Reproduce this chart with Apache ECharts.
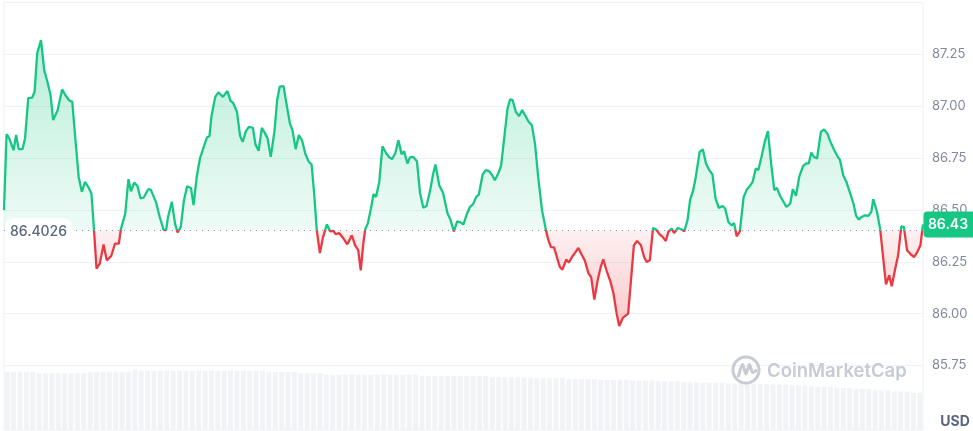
<!DOCTYPE html>
<html>
<head>
<meta charset="utf-8">
<script src="https://cdn.jsdelivr.net/npm/echarts/dist/echarts.min.js"></script>
<style>
html,body{margin:0;padding:0;background:#ffffff;}
#c{width:973px;height:431px;}
</style>
</head>
<body>
<div id="c"></div>
<script>
// time of each price sample, minutes since start of the 24h window
const times = [
0,4,8,15,19,23,29,33,38,44,
48,52,58,63,68,73,77,84,91,96,
102,107,112,117,122,127,132,137,141,145,
150,156,161,168,174,180,183,190,195,199,
204,209,214,219,226,230,238,244,250,254,
257,263,268,272,277,282,287,293,297,302,
307,313,318,322,325,331,336,343,350,355,
359,365,370,374,379,384,390,394,399,404,
409,413,418,424,428,432,438,443,448,452,
457,462,467,472,477,482,486,490,495,500,
506,511,516,520,525,532,538,541,545,550,
555,559,563,566,570,575,579,583,588,593,
599,604,608,613,618,623,627,632,636,641,
647,652,657,662,668,672,676,682,688,695,
699,705,710,716,720,725,730,735,740,744,
750,755,760,765,769,775,779,784,789,793,
797,802,807,812,816,822,827,832,837,843,
849,853,857,862,867,871,875,881,885,890,
895,900,905,910,916,920,925,930,935,939,
944,950,955,960,964,970,978,982,987,992,
998,1003,1007,1012,1017,1022,1027,1032,1037,1041,
1046,1050,1056,1061,1066,1071,1075,1080,1084,1090,
1095,1100,1105,1110,1115,1120,1126,1130,1135,1140,
1144,1148,1153,1159,1164,1169,1173,1178,1182,1187,
1192,1197,1202,1207,1211,1216,1221,1226,1232,1236,
1241,1246,1252,1257,1261,1265,1269,1274,1280,1285,
1290,1295,1301,1306,1310,1315,1320,1326,1331,1335,
1339,1344,1349,1354,1359,1362,1368,1373,1378,1382,
1387,1391,1396,1401,1406,1410,1415,1421,1426,1431,
1436,1440
];

// price in USD
const prices = [
86.499,86.865,86.846,86.788,86.861,86.793,86.793,86.846,87.039,87.041,
87.070,87.255,87.319,87.174,87.118,87.054,86.933,86.981,87.081,87.054,
87.029,87.021,86.836,86.659,86.587,86.635,86.611,86.579,86.405,86.217,
86.241,86.333,86.257,86.278,86.338,86.338,86.405,86.483,86.648,86.590,
86.632,86.616,86.555,86.560,86.600,86.598,86.539,86.466,86.405,86.402,
86.466,86.539,86.434,86.391,86.418,86.547,86.614,86.606,86.523,86.659,
86.748,86.804,86.849,86.856,86.949,87.045,87.067,87.045,87.073,87.026,
87.016,86.973,86.856,86.828,86.880,86.901,86.896,86.816,86.785,86.896,
86.869,86.845,86.756,86.885,87.029,87.094,87.097,87.005,86.917,86.885,
86.793,86.861,86.836,86.772,86.735,86.719,86.579,86.405,86.292,86.370,
86.430,86.397,86.399,86.383,86.389,86.362,86.334,86.338,86.378,86.330,
86.306,86.209,86.338,86.407,86.434,86.507,86.576,86.563,86.635,86.807,
86.772,86.753,86.745,86.772,86.836,86.769,86.783,86.724,86.753,86.756,
86.735,86.579,86.510,86.519,86.598,86.667,86.719,86.619,86.582,86.483,
86.458,86.397,86.445,86.439,86.430,86.478,86.514,86.528,86.563,86.574,
86.671,86.692,86.687,86.667,86.643,86.679,86.716,86.852,86.989,87.033,
87.029,86.973,86.952,86.981,86.960,86.925,86.909,86.820,86.659,86.499,
86.405,86.354,86.321,86.319,86.265,86.225,86.212,86.261,86.246,86.273,
86.294,86.317,86.285,86.257,86.193,86.177,86.068,86.157,86.225,86.262,
86.209,86.157,86.097,86.000,85.940,85.981,86.000,86.145,86.330,86.350,
86.330,86.273,86.249,86.257,86.413,86.405,86.383,86.370,86.350,86.394,
86.410,86.389,86.413,86.407,86.397,86.450,86.547,86.595,86.659,86.780,
86.792,86.724,86.692,86.672,86.555,86.510,86.519,86.507,86.442,86.426,
86.437,86.373,86.397,86.563,86.598,86.616,86.635,86.700,86.692,86.756,
86.828,86.880,86.724,86.595,86.606,86.568,86.542,86.514,86.531,86.600,
86.568,86.659,86.711,86.724,86.724,86.777,86.756,86.748,86.876,86.888,
86.869,86.828,86.788,86.759,86.740,86.667,86.635,86.579,86.531,86.474,
86.454,86.466,86.474,86.471,86.490,86.552,86.490,86.405,86.257,86.141,
86.185,86.132,86.209,86.281,86.421,86.418,86.306,86.285,86.273,86.297,
86.330,86.430
];

// volume bars (relative units)
const volumes = [
5.83,5.83,5.83,5.83,5.83,
5.67,5.67,5.67,5.67,5.67,5.67,5.67,5.67,
5.83,5.83,5.83,5.83,5.83,5.83,5.83,
6.07,
5.93,5.93,5.93,5.93,5.93,5.93,5.93,5.93,5.93,5.93,5.93,5.93,5.93,5.93,5.93,5.93,5.93,5.93,5.93,5.93,
5.80,5.80,5.80,5.80,5.80,
5.67,5.67,5.67,5.67,
5.53,5.53,5.53,5.53,5.53,5.53,5.53,5.53,5.53,5.53,5.53,5.53,5.53,5.53,5.53,
5.40,5.40,5.40,5.40,5.40,5.40,5.40,5.40,5.40,5.40,5.40,
5.27,5.27,
5.25,5.25,5.25,5.25,5.25,5.18,5.18,5.18,5.18,5.18,5.10,5.10,5.10,5.10,5.10,
5.02,5.02,5.02,5.02,5.02,4.95,4.95,4.95,4.95,4.87,4.87,4.87,4.87,4.78,4.78,4.78,
4.72,4.72,4.72,4.72,4.66,4.66,4.66,4.66,4.60,4.60,4.60,
4.55,4.55,4.55,4.45,4.45,4.45,4.35,4.35,4.35,4.35,
4.20,4.20,4.20,4.10,4.10,4.10,
3.98,3.98,3.98,3.85,3.85,3.85,3.72,3.72
];

const baseline = 86.4026;
const lastPrice = 86.43;
const baselineLabel = '86.4026';
const lastLabel = '86.43';
const yMin = 85.75, yMax = 87.5, yStep = 0.25;
const volAxisMax = 42.75;

const GREEN = '#16c784', RED = '#ea3943';
const maxP = Math.max.apply(null, prices), minP = Math.min.apply(null, prices);
const stop = (maxP - baseline) / (maxP - minP);

const chart = echarts.init(document.getElementById('c'), null, {renderer: 'canvas'});

const option = {
  animation: false,
  backgroundColor: '#ffffff',
  grid: [
    {left: 4, right: 50, top: 2.5, bottom: 65.5, outerBoundsMode: 'none'},
    {left: 4, right: 50, top: 2.5, bottom: 1, show: true, borderColor: '#eef0f3', borderWidth: 1, backgroundColor: 'transparent', outerBoundsMode: 'none'}
  ],
  xAxis: [
    {type: 'value', gridIndex: 0, min: 0, max: 1440, show: false},
    {type: 'category', gridIndex: 1, data: volumes.map((v, i) => i), show: false, boundaryGap: true}
  ],
  yAxis: [
    {
      type: 'value', gridIndex: 0, position: 'right', min: yMin, max: yMax, interval: yStep,
      axisLine: {show: false}, axisTick: {show: false},
      splitLine: {show: true, lineStyle: {color: '#eff2f5', width: 1}},
      axisLabel: {
        show: true, margin: 9, color: '#808a9d', fontSize: 13, fontFamily: 'Inter',
        formatter: v => (v >= yMax - 1e-9 ? '' : v.toFixed(2))
      }
    },
    {type: 'value', gridIndex: 1, min: 0, max: volAxisMax, show: false, splitLine: {show: false}}
  ],
  visualMap: {
    type: 'piecewise', show: false, seriesIndex: 1, dimension: 1,
    pieces: [
      {gt: 0, lte: baseline, color: RED},
      {gt: baseline, lte: 1000, color: GREEN}
    ],
    outOfRange: {color: GREEN}
  },
  series: [
    {
      type: 'bar', xAxisIndex: 1, yAxisIndex: 1, data: volumes, z: 1,
      barCategoryGap: '22%', itemStyle: {color: '#f1f3f6'}, silent: true
    },
    {
      type: 'line', xAxisIndex: 0, yAxisIndex: 0, z: 3,
      data: times.map((t, i) => [t, prices[i]]),
      showSymbol: false, symbol: 'none', smooth: false,
      lineStyle: {width: 2.3},
      areaStyle: {
        origin: baseline, opacity: 1,
        color: new echarts.graphic.LinearGradient(0, 0, 0, 1, [
          {offset: 0, color: 'rgba(22,199,132,0.30)'},
          {offset: stop, color: 'rgba(22,199,132,0.07)'},
          {offset: stop, color: 'rgba(234,57,67,0.07)'},
          {offset: 1, color: 'rgba(234,57,67,0.28)'}
        ])
      },
      markLine: {
        silent: true, symbol: 'none', label: {show: false},
        lineStyle: {color: '#8a93a6', type: [1, 5], width: 1},
        data: [{yAxis: baseline}]
      }
    }
  ]
};
chart.setOption(option);

const baseY = chart.convertToPixel({yAxisIndex: 0}, baseline);
const lastY = chart.convertToPixel({yAxisIndex: 0}, lastPrice);
const rightX = chart.convertToPixel({xAxisIndex: 0}, 1440);
const wmColor = '#c6cbd4';

chart.setOption({
  graphic: [
    {
      type: 'rect', z: 100,
      shape: {x: 5, y: baseY - 12, width: 67, height: 28, r: 8},
      style: {fill: 'rgba(255,255,255,0.95)'}
    },
    {
      type: 'text', z: 101, x: 38.5, y: baseY + 2,
      style: {text: baselineLabel, fill: '#58667e', font: '500 14px Inter', align: 'center', verticalAlign: 'middle'}
    },
    {
      type: 'rect', z: 100,
      shape: {x: rightX + 0.5, y: lastY - 13, width: 973 - rightX, height: 26, r: [4, 0, 0, 4]},
      style: {fill: GREEN}
    },
    {
      type: 'text', z: 101, x: rightX + 25, y: lastY,
      style: {text: lastLabel, fill: '#ffffff', font: '600 14px Inter', align: 'center', verticalAlign: 'middle'}
    },
    {
      type: 'text', z: 101, x: 955, y: 422,
      style: {text: 'USD', fill: '#58667e', font: '700 14px Inter', align: 'center', verticalAlign: 'middle'}
    },
    {
      type: 'circle', z: 50,
      shape: {cx: 746, cy: 370, r: 13},
      style: {fill: 'none', stroke: wmColor, lineWidth: 3}
    },
    {
      type: 'polyline', z: 50,
      shape: {points: [[738.5, 376], [742.5, 364.5], [746, 374], [749.5, 364.5], [752.5, 372.5], [756, 370.5]], smooth: 0.25},
      style: {fill: 'none', stroke: wmColor, lineWidth: 3, lineJoin: 'round', lineCap: 'round'}
    },
    {
      type: 'text', z: 50, x: 767, y: 371,
      style: {text: 'CoinMarketCap', fill: wmColor, font: '600 18.5px Inter', align: 'left', verticalAlign: 'middle'}
    }
  ]
});
</script>
</body>
</html>
